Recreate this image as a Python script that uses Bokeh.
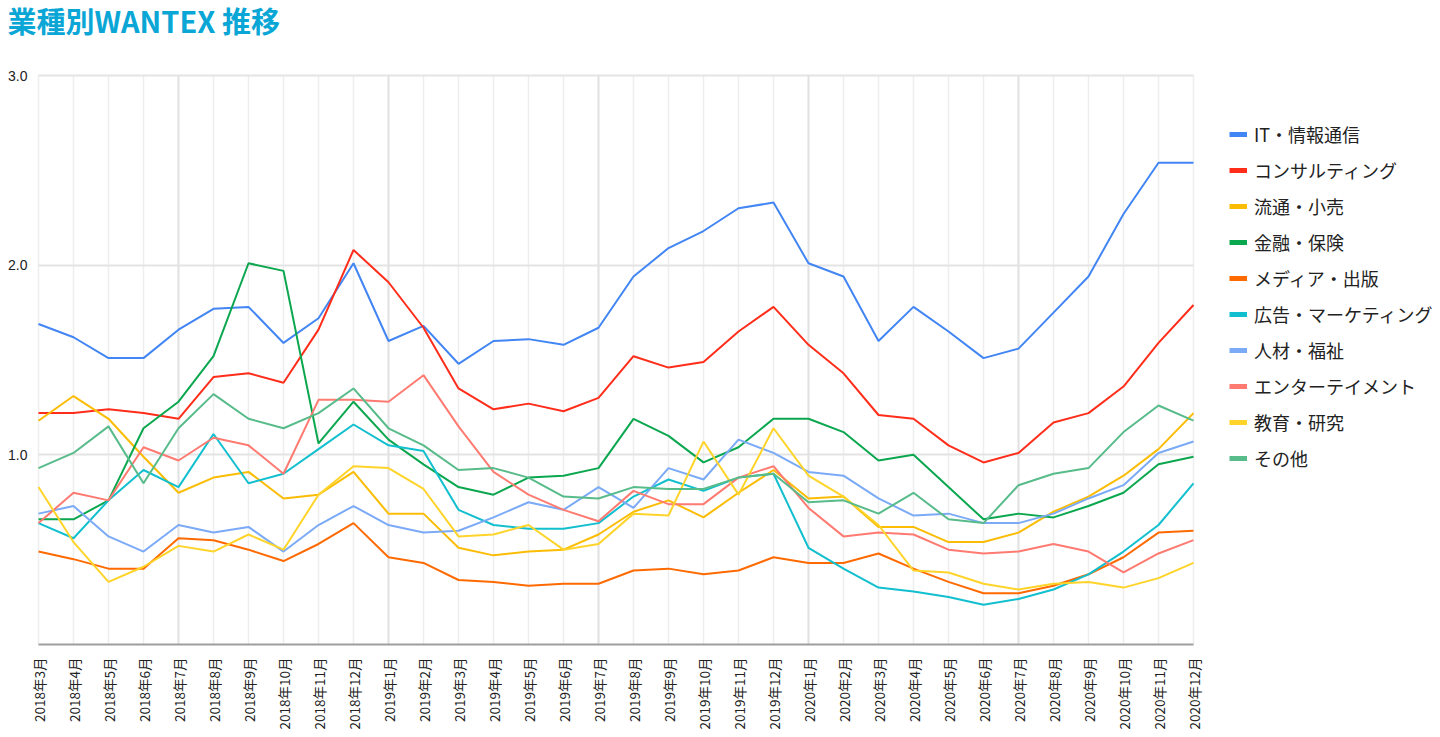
from bokeh.plotting import figure
from bokeh.models import FixedTicker, Grid, Legend, LegendItem, Label, Range1d
from bokeh.embed import file_html
from bokeh.resources import INLINE

months = ["2018年3月", "2018年4月", "2018年5月", "2018年6月", "2018年7月", "2018年8月",
          "2018年9月", "2018年10月", "2018年11月", "2018年12月", "2019年1月", "2019年2月",
          "2019年3月", "2019年4月", "2019年5月", "2019年6月", "2019年7月", "2019年8月",
          "2019年9月", "2019年10月", "2019年11月", "2019年12月", "2020年1月", "2020年2月",
          "2020年3月", "2020年4月", "2020年5月", "2020年6月", "2020年7月", "2020年8月",
          "2020年9月", "2020年10月", "2020年11月", "2020年12月"]

it_info = [1.69, 1.62, 1.51, 1.51, 1.66, 1.77, 1.78, 1.59, 1.72, 2.01, 1.60, 1.68,
           1.48, 1.60, 1.61, 1.58, 1.67, 1.94, 2.09, 2.18, 2.30, 2.33, 2.01, 1.94,
           1.60, 1.78, 1.65, 1.51, 1.56, 1.75, 1.94, 2.27, 2.54, 2.54]
consulting = [1.22, 1.22, 1.24, 1.22, 1.19, 1.41, 1.43, 1.38, 1.66, 2.08, 1.91, 1.67,
              1.35, 1.24, 1.27, 1.23, 1.30, 1.52, 1.46, 1.49, 1.65, 1.78, 1.58, 1.43,
              1.21, 1.19, 1.05, 0.96, 1.01, 1.17, 1.22, 1.36, 1.59, 1.79]
retail = [1.18, 1.31, 1.19, 0.99, 0.80, 0.88, 0.91, 0.77, 0.79, 0.91, 0.69, 0.69,
          0.51, 0.47, 0.49, 0.50, 0.58, 0.70, 0.76, 0.67, 0.80, 0.92, 0.77, 0.78,
          0.62, 0.62, 0.54, 0.54, 0.59, 0.70, 0.78, 0.89, 1.03, 1.22]
finance = [0.66, 0.66, 0.76, 1.14, 1.28, 1.52, 2.01, 1.97, 1.06, 1.28, 1.08, 0.95,
           0.83, 0.79, 0.88, 0.89, 0.93, 1.19, 1.10, 0.96, 1.04, 1.19, 1.19, 1.12,
           0.97, 1.00, 0.83, 0.66, 0.69, 0.67, 0.73, 0.80, 0.95, 0.99]
media = [0.49, 0.45, 0.40, 0.40, 0.56, 0.55, 0.50, 0.44, 0.53, 0.64, 0.46, 0.43,
         0.34, 0.33, 0.31, 0.32, 0.32, 0.39, 0.40, 0.37, 0.39, 0.46, 0.43, 0.43,
         0.48, 0.40, 0.33, 0.27, 0.27, 0.31, 0.37, 0.46, 0.59, 0.60]
marketing = [0.64, 0.56, 0.76, 0.92, 0.83, 1.11, 0.85, 0.90, 1.03, 1.16, 1.05, 1.02,
             0.71, 0.63, 0.61, 0.61, 0.64, 0.78, 0.87, 0.81, 0.88, 0.90, 0.51, 0.40,
             0.30, 0.28, 0.25, 0.21, 0.24, 0.29, 0.37, 0.49, 0.63, 0.85]
hr_welfare = [0.69, 0.73, 0.57, 0.49, 0.63, 0.59, 0.62, 0.49, 0.63, 0.73, 0.63, 0.59,
              0.60, 0.67, 0.75, 0.71, 0.83, 0.72, 0.93, 0.87, 1.08, 1.01, 0.91, 0.89,
              0.77, 0.68, 0.69, 0.64, 0.64, 0.69, 0.77, 0.84, 1.01, 1.07]
entertainment = [0.64, 0.80, 0.76, 1.04, 0.97, 1.09, 1.05, 0.90, 1.29, 1.29, 1.28, 1.42,
                 1.15, 0.91, 0.79, 0.71, 0.65, 0.81, 0.74, 0.74, 0.88, 0.94, 0.72, 0.57,
                 0.59, 0.58, 0.50, 0.48, 0.49, 0.53, 0.49, 0.38, 0.48, 0.55]
education = [0.83, 0.54, 0.33, 0.41, 0.52, 0.49, 0.58, 0.50, 0.79, 0.94, 0.93, 0.82,
             0.57, 0.58, 0.63, 0.50, 0.53, 0.69, 0.68, 1.07, 0.79, 1.14, 0.89, 0.78,
             0.63, 0.39, 0.38, 0.32, 0.29, 0.32, 0.33, 0.30, 0.35, 0.43]
others = [0.93, 1.01, 1.15, 0.85, 1.14, 1.32, 1.19, 1.14, 1.22, 1.35, 1.14, 1.05,
          0.92, 0.93, 0.88, 0.78, 0.77, 0.83, 0.82, 0.82, 0.88, 0.90, 0.75, 0.76,
          0.69, 0.80, 0.66, 0.64, 0.84, 0.90, 0.93, 1.12, 1.26, 1.18]

series_names = ["IT・情報通信", "コンサルティング", "流通・小売", "金融・保険", "メディア・出版",
                "広告・マーケティング", "人材・福祉", "エンターテイメント", "教育・研究", "その他"]
series_values = [it_info, consulting, retail, finance, media, marketing, hr_welfare,
                 entertainment, education, others]
series_colors = ["#4285f4", "#ff2d1a", "#fbbc04", "#0ba74f", "#ff6a00", "#12bfcf",
                 "#7baaf7", "#ff7b72", "#ffd42a", "#57bb8a"]
y_ticks = [0, 1, 2, 3]
y_max = 3.0
title_text = "業種別WANTEX 推移"

x = list(range(len(months)))
n_last = len(months) - 1
NAN = float("nan")

# canvas / plot-area geometry in pixels
W, H = 1440, 737
PLOT_L, PLOT_R, PLOT_T, PLOT_B = 38, 1193, 75, 644
px_x = (PLOT_R - PLOT_L) / n_last
px_y = (PLOT_B - PLOT_T) / y_max
x_range = Range1d(-PLOT_L / px_x, n_last + (W - PLOT_R) / px_x)
y_range = Range1d(-(H - PLOT_B) / px_y, y_max + PLOT_T / px_y)

p = figure(width=W, height=H, output_backend="svg", toolbar_location=None,
           x_range=x_range, y_range=y_range, min_border=0, title=None)

p.outline_line_color = None
p.background_fill_color = "white"
p.border_fill_color = "white"

# x axis (pinned at y = 0)
p.xaxis.fixed_location = 0
p.xaxis.bounds = (0, n_last)
p.xaxis.ticker = FixedTicker(ticks=x)
p.xaxis.major_label_overrides = {i: m for i, m in enumerate(months)}
p.xaxis.major_label_orientation = 3.14159265 / 2
p.xaxis.major_label_text_font = "Noto Sans CJK JP"
p.xaxis.major_label_text_font_size = "13.5px"
p.xaxis.major_label_text_color = "#222222"
p.xaxis.axis_line_color = "#9e9e9e"
p.xaxis.axis_line_width = 2
p.xaxis.major_tick_line_color = None
p.xaxis.minor_tick_line_color = None
p.xaxis.major_label_standoff = 7

# y axis (pinned at x = 0)
p.yaxis.fixed_location = 0
p.yaxis.bounds = (0, y_max)
p.yaxis.ticker = FixedTicker(ticks=y_ticks)
p.yaxis.major_label_overrides = {0: "", 1: "1.0", 2: "2.0", 3: "3.0"}
p.yaxis.major_label_text_font = "Liberation Sans"
p.yaxis.major_label_text_font_size = "14px"
p.yaxis.major_label_text_color = "#222222"
p.yaxis.axis_line_color = None
p.yaxis.major_tick_line_color = None
p.yaxis.minor_tick_line_color = None
p.yaxis.major_label_standoff = 5

# grids
p.xgrid.ticker = FixedTicker(ticks=x)
p.xgrid.grid_line_color = "#eeeeee"
p.xgrid.grid_line_width = 1.5
p.xgrid.bounds = (0, n_last)
p.xgrid.cross_bounds = (0, y_max)
p.ygrid.ticker = FixedTicker(ticks=[1, 2, 3])
p.ygrid.grid_line_color = "#e4e4e4"
p.ygrid.grid_line_width = 2
p.ygrid.cross_bounds = (0, n_last)
major_grid = Grid(dimension=0, ticker=FixedTicker(ticks=[4, 10, 16, 22, 28]),
                  grid_line_color="#e2e2e2", grid_line_width=2,
                  cross_bounds=(0, y_max))
p.add_layout(major_grid)

items = []
for name, vals, col in zip(series_names, series_values, series_colors):
    p.line(x, vals, line_color=col, line_width=2)
    # legend-only swatch renderer (no visible data)
    swatch = p.line([NAN], [NAN], line_color=col, line_width=5)
    items.append(LegendItem(label=name, renderers=[swatch]))

legend = Legend(items=items, location=(1229, 266))
legend.label_text_font = "Noto Sans CJK JP"
legend.label_text_font_size = "18px"
legend.label_text_color = "#222222"
legend.glyph_width = 18
legend.glyph_height = 26
legend.label_height = 26
legend.spacing = 10
legend.padding = 10
legend.margin = 0
legend.label_standoff = 7
legend.border_line_color = None
legend.background_fill_alpha = 0
p.add_layout(legend)

title = Label(x=7, y=H - 19, x_units="screen", y_units="screen", text=title_text,
              text_font="Noto Sans CJK JP", text_font_size="29px", text_font_style="bold",
              text_color="#0aa6d6", text_align="left", text_baseline="middle")
p.add_layout(title)

open("out.html", "w").write(file_html(p, INLINE))
